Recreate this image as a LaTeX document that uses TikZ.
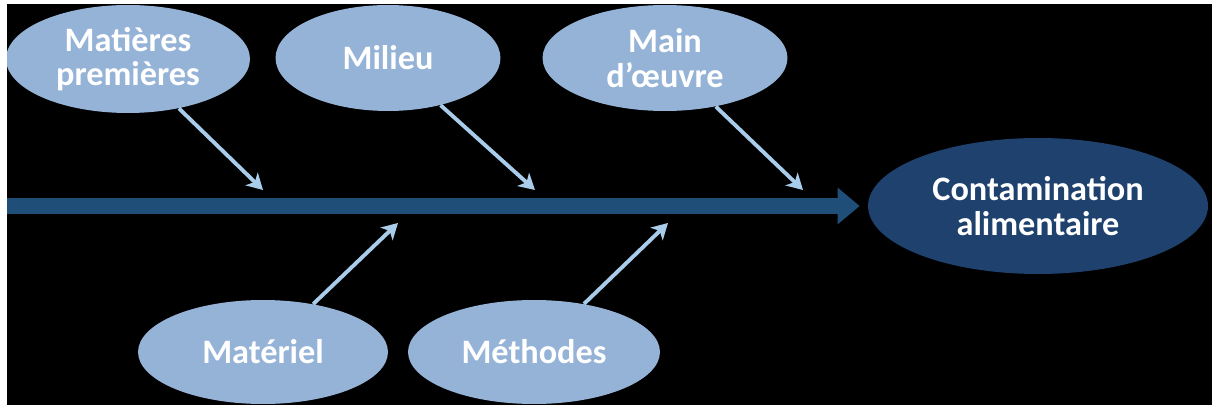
\documentclass[tikz,border=0pt]{standalone}
\usepackage{fontspec}
\setmainfont{Carlito}
\usetikzlibrary{shapes.geometric,arrows.meta}
\definecolor{causefill}{HTML}{95B3D7}
\definecolor{effectfill}{HTML}{1E416E}
\definecolor{spine}{HTML}{1F4E79}
\definecolor{feeder}{HTML}{A9CCEA}
\begin{document}
\begin{tikzpicture}[x=0.02cm,y=-0.02cm,
        cause/.style={ellipse,fill=causefill,text=white,inner sep=0pt,align=center,
            font=\fontsize{19.5}{19.5}\selectfont\bfseries},
        effect/.style={cause,fill=effectfill},
        feederarrow/.style={draw=feeder,line width=2.2pt,-{Stealth[length=9pt,width=10pt,inset=2.5pt]}}]
            \useasboundingbox (0,0) rectangle (1212,405);
            \fill[white] (0,0) rectangle (1212,405);
            \fill[black] (7,4) rectangle (1212,405);
            \begin{scope}
                \clip (7,4) rectangle (1212,405);
                \node[cause,minimum width=4.88cm,minimum height=2.16cm] (mp) at (128,59) {Matières\\premières};
                \node[cause,minimum width=4.5cm,minimum height=2.12cm] (mil) at (388,58) {Milieu};
                \node[cause,minimum width=4.9cm,minimum height=2.12cm] (mo) at (665,58) {Main\\d’œuvre};
                \node[cause,minimum width=5cm,minimum height=2.08cm] (mat) at (263,352) {Matériel};
                \node[cause,minimum width=5.04cm,minimum height=2.08cm] (meth) at (534,352) {Méthodes};
            \end{scope}
            \node[effect,minimum width=6.8cm,minimum height=2.72cm] (cont) at (1038,206) {Contamination\\alimentaire};
            \coordinate (tail) at (7,206);
            \coordinate (c1) at (263,190);
            \coordinate (c2) at (535,190);
            \coordinate (c3) at (803,190);
            \coordinate (c4) at (398,223);
            \coordinate (c5) at (668,223);
            \draw[spine,line width=9.6pt,-{Triangle[length=12.5pt,width=20pt]}] (tail) -- ([xshift=-0.16cm]cont.west);
            \draw[feederarrow] (mp) -- (c1);
            \draw[feederarrow] (mil) -- (c2);
            \draw[feederarrow] (mo) -- (c3);
            \draw[feederarrow] (mat) -- (c4);
            \draw[feederarrow] (meth) -- (c5);
        \end{tikzpicture}
\end{document}
